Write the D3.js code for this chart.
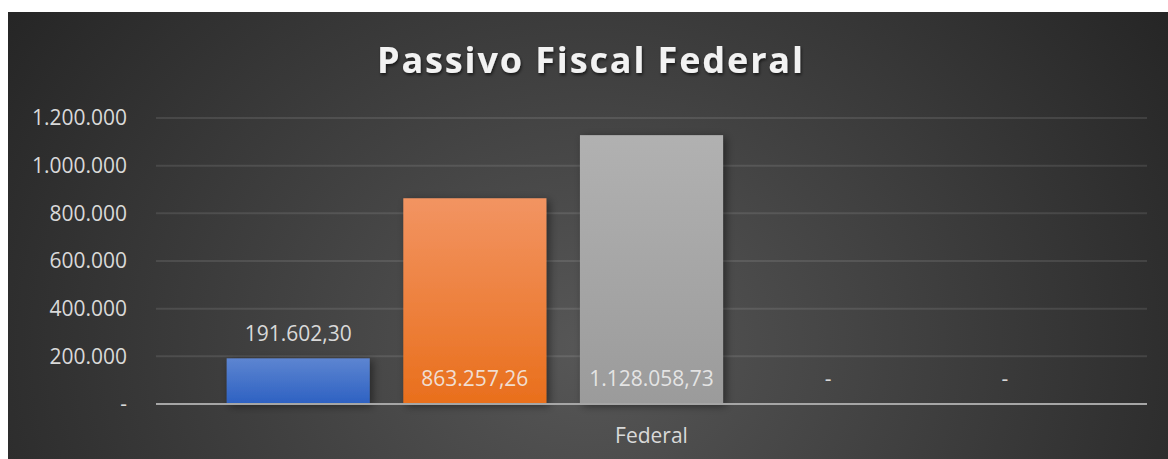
<!DOCTYPE html>
<html>
<head>
<meta charset="utf-8">
<script src="https://cdn.jsdelivr.net/npm/d3@7"></script>
<style>
  html, body { margin: 0; padding: 0; background: #ffffff; }
  svg { display: block; }
  text { font-family: "Open Sans", "Noto Sans", sans-serif; }
</style>
</head>
<body>
<svg id="chart" width="1168" height="459"></svg>
<script>
// ---- data ----
const title = "Passivo Fiscal Federal";
const category = "Federal";
const seriesNames = ["S1", "S2", "S3", "S4", "S5"];
const seriesValues = [191602.30, 863257.26, 1128058.73, 0, 0];
const yTicks = [0, 200000, 400000, 600000, 800000, 1000000, 1200000];
const yTickLabels = ["-", "200.000", "400.000", "600.000", "800.000", "1.000.000", "1.200.000"];
const valueLabels = ["191.602,30", "863.257,26", "1.128.058,73", "-", "-"];
const colorsTop = ["#5d85d1", "#f29462", "#b1b1b1", "#888", "#888"];
const colorsBottom = ["#2d61c2", "#e96f1c", "#9b9b9b", "#666", "#666"];

const svg = d3.select("#chart");
const W = 1168, H = 459;
const defs = svg.append("defs");

// background gradient
const bg = defs.append("radialGradient").attr("id", "bg")
  .attr("cx", "50%").attr("cy", "75%").attr("r", "60%")
  .attr("gradientTransform", "translate(0.5,0.75) scale(1,2.2) translate(-0.5,-0.75)");
bg.append("stop").attr("offset", "0%").attr("stop-color", "#575757");
bg.append("stop").attr("offset", "100%").attr("stop-color", "#262626");

seriesNames.forEach((s, i) => {
  const g = defs.append("linearGradient").attr("id", "g" + i)
    .attr("x1", 0).attr("y1", 0).attr("x2", 0).attr("y2", 1);
  g.append("stop").attr("offset", "0%").attr("stop-color", colorsTop[i]);
  g.append("stop").attr("offset", "100%").attr("stop-color", colorsBottom[i]);
});

const shadow = defs.append("filter").attr("id", "shadow")
  .attr("x", "-20%").attr("y", "-20%").attr("width", "140%").attr("height", "140%");
shadow.append("feDropShadow").attr("dx", 3).attr("dy", 2).attr("stdDeviation", 4)
  .attr("flood-color", "#000").attr("flood-opacity", 0.45);

const tshadow = defs.append("filter").attr("id", "tshadow")
  .attr("x", "-10%").attr("y", "-30%").attr("width", "120%").attr("height", "160%");
tshadow.append("feDropShadow").attr("dx", 1).attr("dy", 2).attr("stdDeviation", 1.5)
  .attr("flood-color", "#000").attr("flood-opacity", 0.6);

// chart area
svg.append("rect").attr("x", 8).attr("y", 12).attr("width", W - 8).attr("height", H - 12)
  .attr("fill", "url(#bg)");

// scales
const plotLeft = 156, plotRight = 1147;
const y = d3.scaleLinear().domain([0, 1200000]).range([404, 118]);
const xCat = d3.scaleBand().domain([category]).range([plotLeft, plotRight]).padding(0);
const x = d3.scaleBand().domain(seriesNames).range([plotLeft, plotRight])
  .paddingInner(0.19).paddingOuter(0.4);

// gridlines
svg.append("g").selectAll("line").data(yTicks.filter(d => d > 0)).join("line")
  .attr("x1", plotLeft).attr("x2", plotRight)
  .attr("y1", d => y(d)).attr("y2", d => y(d))
  .attr("stroke", "rgba(255,255,255,0.1)").attr("stroke-width", 2);

// y axis labels
const yAxis = d3.axisLeft(y).tickValues(yTicks).tickSize(0).tickPadding(0)
  .tickFormat((d, i) => yTickLabels[i]);
const ya = svg.append("g").attr("transform", "translate(127,0)").call(yAxis);
ya.select(".domain").remove();
ya.selectAll("text").attr("fill", "#d9d9d9").attr("font-size", 21)
  .attr("font-family", "'Open Sans', sans-serif");

// bars
svg.append("g").selectAll("rect").data(seriesValues).join("rect")
  .attr("x", (d, i) => x(seriesNames[i]))
  .attr("width", x.bandwidth())
  .attr("y", d => y(d))
  .attr("height", d => y(0) - y(d))
  .attr("fill", (d, i) => "url(#g" + i + ")")
  .attr("filter", "url(#shadow)");

// baseline
svg.append("line").attr("x1", plotLeft).attr("x2", plotRight)
  .attr("y1", y(0)).attr("y2", y(0))
  .attr("stroke", "#a6a6a6").attr("stroke-width", 2);

// value labels
svg.append("g").selectAll("text").data(seriesValues).join("text")
  .attr("x", (d, i) => x(seriesNames[i]) + x.bandwidth() / 2)
  .attr("y", (d, i) => (d > 0 && d < 300000) ? y(d) - 25 : y(0) - 25)
  .attr("dy", "0.35em")
  .attr("text-anchor", "middle")
  .attr("font-size", 21)
  .attr("fill", (d, i) => (d >= 300000) ? "rgba(242,242,242,0.85)" : "#d9d9d9")
  .text((d, i) => valueLabels[i]);

// category label
svg.append("text")
  .attr("x", xCat(category) + xCat.bandwidth() / 2)
  .attr("y", 443)
  .attr("text-anchor", "middle")
  .attr("font-size", 21)
  .attr("fill", "#d9d9d9")
  .text(category);

// title
const t = svg.append("text")
  .attr("x", 590).attr("y", 73)
  .attr("text-anchor", "middle")
  .attr("font-size", 36)
  .attr("font-weight", "bold")
  .attr("fill", "#f2f2f2")
  .attr("filter", "url(#tshadow)")
  .text(title);
const natural = t.node().getComputedTextLength();
const targetW = 426;
const ls = (targetW - natural) / (title.length - 1);
t.attr("letter-spacing", ls + "px").attr("x", 590 + ls / 2);
</script>
</body>
</html>
